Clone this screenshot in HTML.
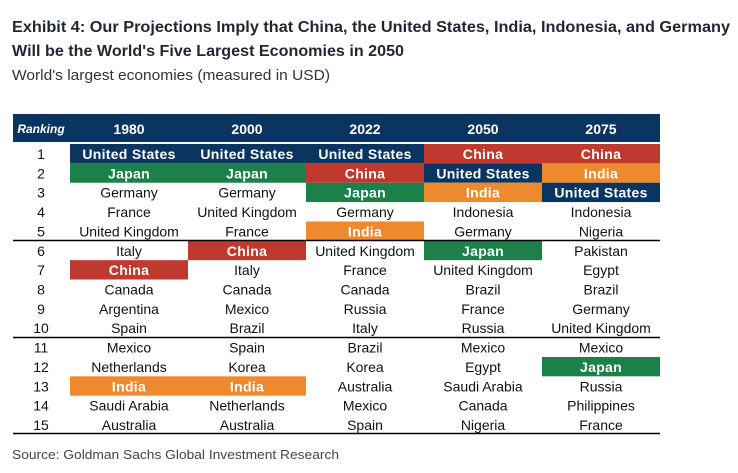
<!DOCTYPE html>
<html><head><meta charset="utf-8"><style>
html,body{margin:0;padding:0;background:#fff;}
svg{display:block;}
</style></head><body>
<svg id="chart" width="738" height="473" viewBox="0 0 738 473" xmlns="http://www.w3.org/2000/svg" font-family="'Liberation Sans', sans-serif">
<text x="12" y="32" font-size="16" font-weight="bold" fill="#1f2733" textLength="718" lengthAdjust="spacingAndGlyphs">Exhibit 4: Our Projections Imply that China, the United States, India, Indonesia, and Germany</text>
<text x="12" y="56" font-size="16" font-weight="bold" fill="#1f2733" textLength="392" lengthAdjust="spacingAndGlyphs">Will be the World's Five Largest Economies in 2050</text>
<text x="12" y="80" font-size="15" fill="#333" textLength="318" lengthAdjust="spacingAndGlyphs">World's largest economies (measured in USD)</text>
<rect x="13" y="114" width="647" height="28" fill="#0b3561"/>
<text x="41" y="133" font-size="12" font-style="italic" font-weight="bold" fill="#fff" text-anchor="middle">Ranking</text>
<g id="cols"></g>
<g id="rows"></g>
<line x1="13" y1="240.5" x2="660" y2="240.5" stroke="#000" stroke-width="1.5"/>
<line x1="13" y1="337.5" x2="660" y2="337.5" stroke="#000" stroke-width="1.5"/>
<line x1="13" y1="433.5" x2="660" y2="433.5" stroke="#000" stroke-width="1.5"/>
<text x="12" y="459" font-size="13" fill="#444" textLength="327" lengthAdjust="spacingAndGlyphs">Source: Goldman Sachs Global Investment Research</text>
</svg>
<script>
const years = ["1980","2000","2022","2050","2075"];
const col1980 = ["United States","Japan","Germany","France","United Kingdom","Italy","China","Canada","Argentina","Spain","Mexico","Netherlands","India","Saudi Arabia","Australia"];
const col2000 = ["United States","Japan","Germany","United Kingdom","France","China","Italy","Canada","Mexico","Brazil","Spain","Korea","India","Netherlands","Australia"];
const col2022 = ["United States","China","Japan","Germany","India","United Kingdom","France","Canada","Russia","Italy","Brazil","Korea","Australia","Mexico","Spain"];
const col2050 = ["China","United States","India","Indonesia","Germany","Japan","United Kingdom","Brazil","France","Russia","Mexico","Egypt","Saudi Arabia","Canada","Nigeria"];
const col2075 = ["China","India","United States","Indonesia","Nigeria","Pakistan","Egypt","Brazil","Germany","United Kingdom","Mexico","Japan","Russia","Philippines","France"];
const columns = [col1980,col2000,col2022,col2050,col2075];
const highlight = {"United States":"#0b3561","Japan":"#1b8049","China":"#c0392f","India":"#ee8a2e"};
const NS="http://www.w3.org/2000/svg";
const colX = i => 70 + i*118;
const colW = 118;
const rowTop = r => 144 + r*19.36;
const rowH = 19.36;
const cg=document.getElementById('cols'), rg=document.getElementById('rows');
years.forEach((y,i)=>{
  const t=document.createElementNS(NS,'text');
  
  
  t.setAttribute('x',colX(i)+colW/2);t.setAttribute('y',134);
  t.setAttribute('text-anchor','middle');t.setAttribute('font-size','14');t.setAttribute('font-weight','bold');t.setAttribute('fill','#fff');
  t.textContent=y;cg.appendChild(t);
});
for(let r=0;r<15;r++){
  const t=document.createElementNS(NS,'text');
  
  
  t.setAttribute('x',41);t.setAttribute('y',rowTop(r)+15);
  t.setAttribute('text-anchor','middle');t.setAttribute('font-size','14');t.setAttribute('fill','#111');
  t.textContent=r+1;rg.appendChild(t);
}
columns.forEach((col,i)=>{
  col.forEach((c,r)=>{
    const hc=highlight[c];
    if(hc){
      const rc=document.createElementNS(NS,'rect');
      
      
      rc.setAttribute('x',colX(i));rc.setAttribute('y',rowTop(r));
      rc.setAttribute('width',colW);rc.setAttribute('height',rowH);rc.setAttribute('fill',hc);
      rg.appendChild(rc);
    }
    const t=document.createElementNS(NS,'text');
    
    
    t.setAttribute('x',colX(i)+colW/2);t.setAttribute('y',rowTop(r)+15);
    t.setAttribute('text-anchor','middle');t.setAttribute('font-size','14');
    if(hc){t.setAttribute('font-weight','bold');t.setAttribute('fill','#fff');t.setAttribute('letter-spacing','0.3');}
    else t.setAttribute('fill','#111');
    t.textContent=c;rg.appendChild(t);
  });
});
</script>
</body></html>
